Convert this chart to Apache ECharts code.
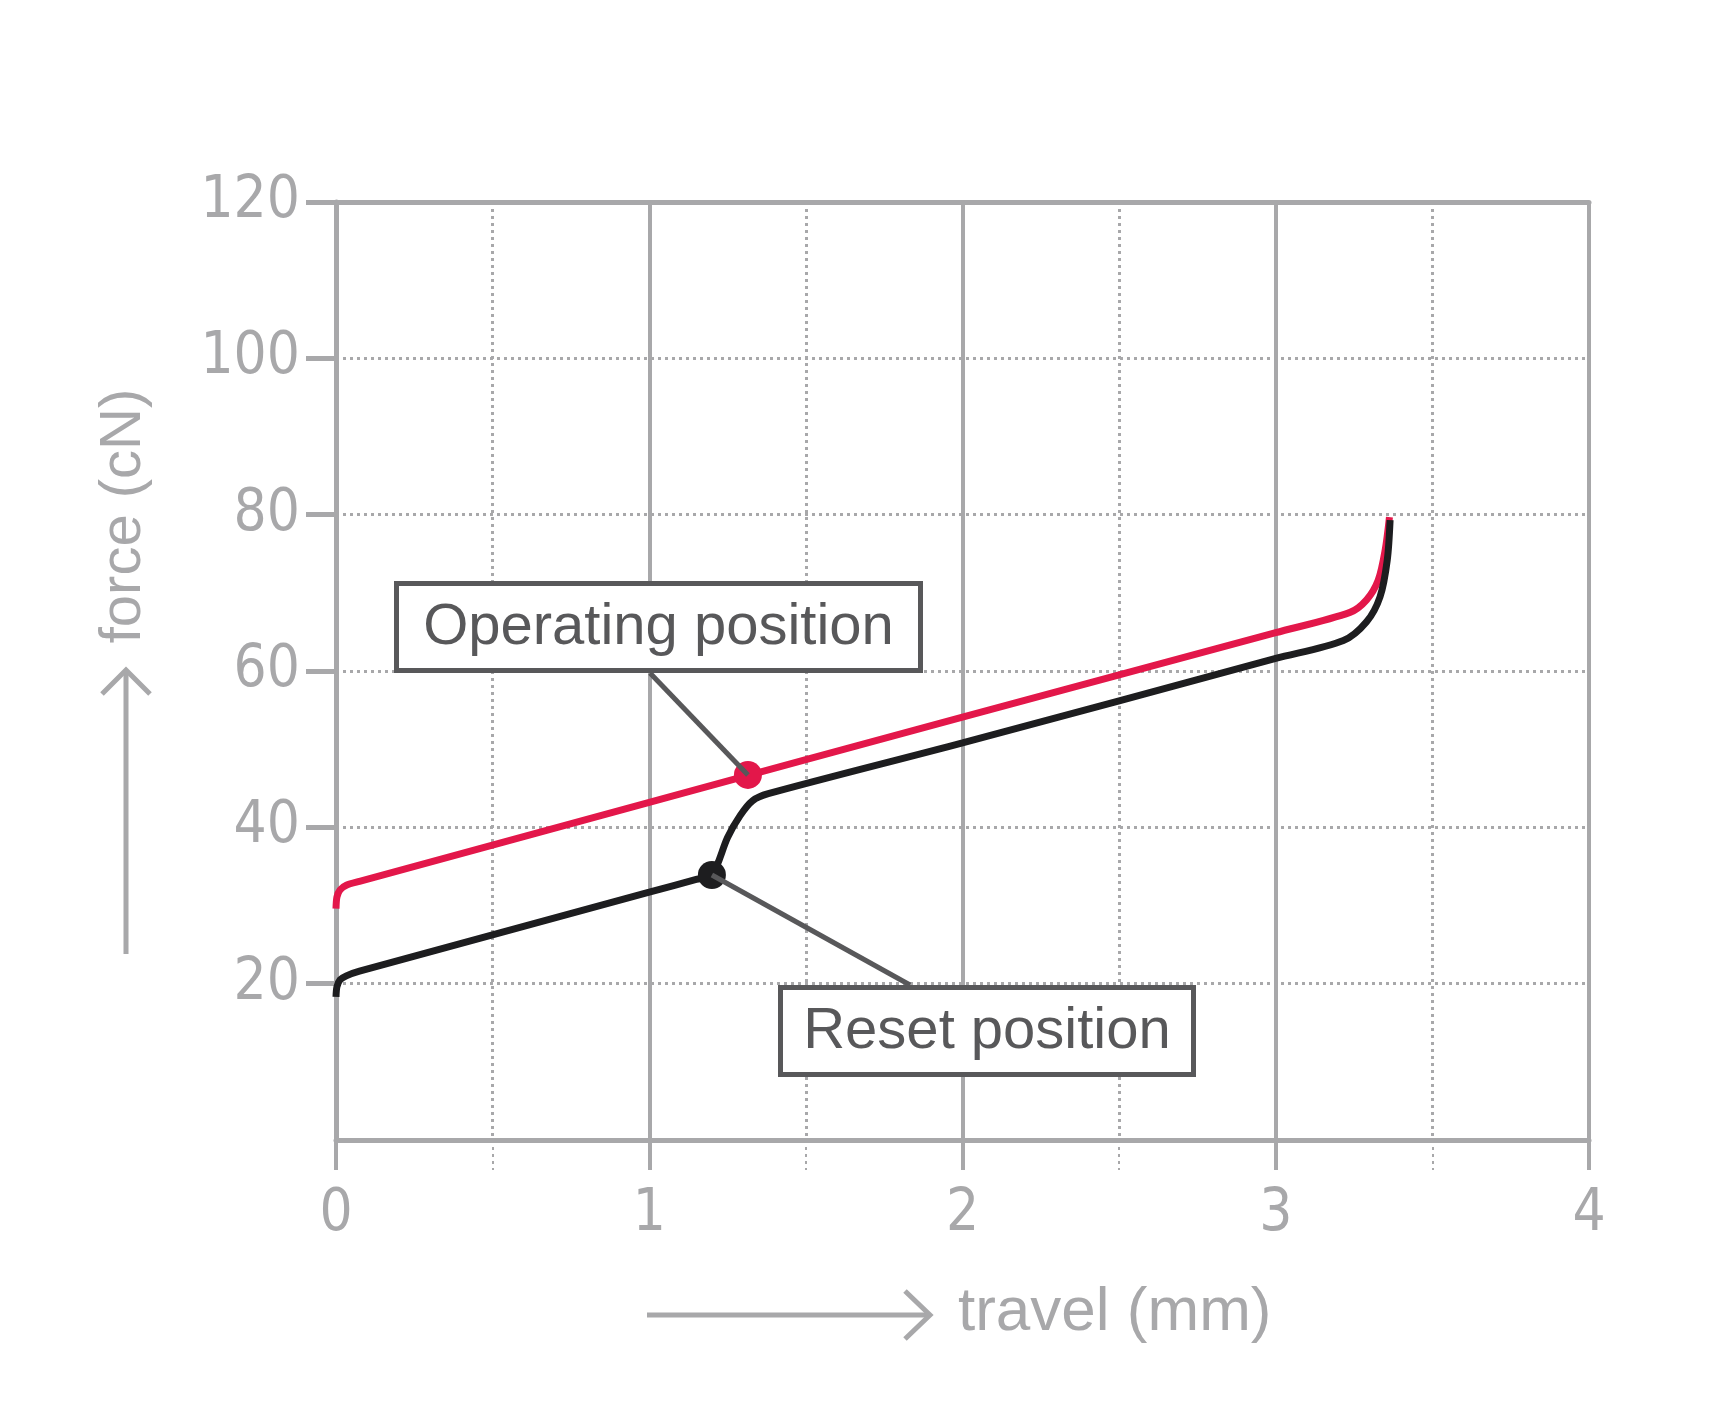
<!DOCTYPE html>
<html>
<head>
<meta charset="utf-8">
<script src="https://cdn.jsdelivr.net/npm/echarts@6/dist/echarts.min.js"></script>
<style>
  html, body { margin: 0; padding: 0; background: #fff; }
  #chart { width: 1730px; height: 1408px; }
</style>
</head>
<body>
<div id="chart"></div>
<script>
// travel (mm) vs force (cN)
const operatingCurve = [
  [0, 29.6], [0.003, 31.1], [0.013, 32.0], [0.033, 32.6], [0.075, 33.1],
  [1.0, 43.2], [2.0, 54.1], [3.0, 64.9],
  [3.237, 67.5], [3.29, 69.1], [3.327, 71.6], [3.349, 75.4], [3.363, 79.7]
];
const resetCurve = [
  [0, 18.3], [0.003, 19.6], [0.013, 20.5], [0.033, 21.0], [0.075, 21.6],
  [1.0, 31.7], [1.15, 33.35], [1.2, 33.9], [1.25, 38.7], [1.29, 41.5],
  [1.33, 43.4], [1.38, 44.3], [2.0, 50.8], [3.0, 61.6],
  [3.216, 63.9], [3.29, 66.3], [3.333, 69.5], [3.356, 74.2], [3.365, 79.3]
];
const operatingPoint = [1.315, 46.7];
const resetPoint = [1.2, 33.9];
const xTicks = { min: 0, max: 4, step: 1 };
const yTicks = { min: 0, max: 120, step: 20 };

const grey = '#a8a8aa';
const dark = '#58585a';
const tickFont = '"Liberation Sans Narrow", "DejaVu Sans Condensed", "Liberation Sans", sans-serif';
const textFont = '"Liberation Sans", Arial, sans-serif';

const chart = echarts.init(document.getElementById('chart'));

chart.setOption({
  animation: false,
  backgroundColor: '#fff',
  grid: { left: 336, right: 141, top: 202, bottom: 268, containLabel: false },
  xAxis: [
    {
      type: 'value', min: xTicks.min, max: xTicks.max, interval: xTicks.step,
      position: 'bottom',
      axisLine: { show: true, onZero: false, lineStyle: { color: grey, width: 5 } },
      axisTick: { show: true, length: 30, lineStyle: { color: grey, width: 4 } },
      minorTick: { show: true, splitNumber: 2, length: 30, lineStyle: { color: grey, width: 2, type: [3, 4] } },
      splitLine: { show: true, lineStyle: { color: grey, width: 4 } },
      minorSplitLine: { show: true, lineStyle: { color: grey, width: 3, type: [3, 4] } },
      axisLabel: { margin: 46, fontSize: 58, color: grey, fontFamily: tickFont }
    },
    {
      type: 'value', min: xTicks.min, max: xTicks.max, position: 'top',
      axisLine: { show: true, onZero: false, lineStyle: { color: grey, width: 5 } },
      axisTick: { show: false }, axisLabel: { show: false }, splitLine: { show: false }
    }
  ],
  yAxis: {
    type: 'value', min: yTicks.min, max: yTicks.max, interval: yTicks.step,
    axisLine: { show: true, onZero: false, lineStyle: { color: grey, width: 5 } },
    axisTick: { show: true, length: 30, lineStyle: { color: grey, width: 5 } },
    splitLine: { show: true, lineStyle: { color: grey, width: 3, type: [3, 4] } },
    axisLabel: {
      margin: 36, fontSize: 58, color: grey, fontFamily: tickFont,
      showMinLabel: false, padding: [8, 0, 0, 0]
    }
  },
  series: [
    {
      name: 'Operating', type: 'line', data: operatingCurve, symbol: 'none',
      smooth: 0.3, lineStyle: { color: '#e3174a', width: 7 }, z: 3
    },
    {
      name: 'Reset', type: 'line', data: resetCurve, symbol: 'none',
      smooth: 0.3, lineStyle: { color: '#1d1d1f', width: 7 }, z: 3
    },
    {
      type: 'scatter', data: [operatingPoint], symbolSize: 28,
      itemStyle: { color: '#e3174a', opacity: 1 }, z: 4
    },
    {
      type: 'scatter', data: [resetPoint], symbolSize: 28,
      itemStyle: { color: '#1d1d1f', opacity: 1 }, z: 4
    }
  ]
});

// annotations and axis titles
const op = chart.convertToPixel({ gridIndex: 0 }, operatingPoint);
const rs = chart.convertToPixel({ gridIndex: 0 }, resetPoint);

function label(txt, x, y) {
  return {
    type: 'text', x: x, y: y, z: 30,
    style: {
      text: txt, fill: dark, fontSize: 58, fontFamily: textFont,
      align: 'center', verticalAlign: 'middle',
      textAlign: 'center', textVerticalAlign: 'middle'
    }
  };
}

chart.setOption({
  graphic: [
    { type: 'line', z: 20, shape: { x1: 650, y1: 673, x2: op[0], y2: op[1] }, style: { stroke: dark, lineWidth: 5 } },
    { type: 'line', z: 20, shape: { x1: rs[0], y1: rs[1], x2: 910, y2: 985 }, style: { stroke: dark, lineWidth: 5 } },
    { type: 'rect', z: 25, shape: { x: 396.5, y: 583.5, width: 524, height: 87 }, style: { fill: '#fff', stroke: dark, lineWidth: 5 } },
    label('Operating position', 658.5, 628),
    { type: 'rect', z: 25, shape: { x: 780.5, y: 987.5, width: 413, height: 87 }, style: { fill: '#fff', stroke: dark, lineWidth: 5 } },
    label('Reset position', 987, 1032),
    // x title
    { type: 'polyline', z: 20, shape: { points: [[647, 1315], [930, 1315]] }, style: { stroke: grey, lineWidth: 5, fill: null } },
    { type: 'polyline', z: 20, shape: { points: [[905, 1291], [930, 1315], [905, 1339]] }, style: { stroke: grey, lineWidth: 5, fill: null } },
    {
      type: 'text', x: 958, y: 1313, z: 30,
      style: { text: 'travel (mm)', fill: grey, fontSize: 62, fontFamily: textFont,
        align: 'left', verticalAlign: 'middle', textAlign: 'left', textVerticalAlign: 'middle' }
    },
    // y title
    { type: 'polyline', z: 20, shape: { points: [[126, 954], [126, 670]] }, style: { stroke: grey, lineWidth: 5, fill: null } },
    { type: 'polyline', z: 20, shape: { points: [[102, 694], [126, 670], [150, 694]] }, style: { stroke: grey, lineWidth: 5, fill: null } },
    {
      type: 'text', x: 124, y: 516, z: 30, rotation: Math.PI / 2,
      style: { text: 'force (cN)', fill: grey, fontSize: 58, fontFamily: textFont,
        align: 'center', verticalAlign: 'middle', textAlign: 'center', textVerticalAlign: 'middle' }
    }
  ]
});
</script>
</body>
</html>
